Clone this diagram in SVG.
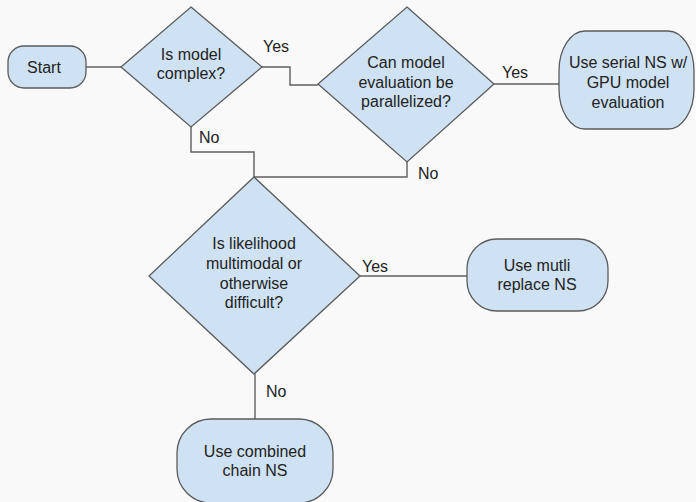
<svg xmlns="http://www.w3.org/2000/svg" width="696" height="502" viewBox="0 0 696 502">
<style>
.n{fill:#cfe2f3;stroke:#5b5b5b;stroke-width:1.3}
.c{fill:none;stroke:#5f5f5f;stroke-width:1.4}
text{font-family:"Liberation Sans",Arial,sans-serif;font-size:16px;fill:#222}
.m{text-anchor:middle}
</style>
<rect width="696" height="502" fill="#f9f9f9"/>
<g id="connectors">
<path class="c" d="M86,67H121"/>
<path class="c" d="M262,67H290V85H318"/>
<path class="c" d="M494,84H559"/>
<path class="c" d="M191,127V152H254V177"/>
<path class="c" d="M407,162V177H254"/>
<path class="c" d="M360,276H467"/>
<path class="c" d="M255,374V419"/>
<text x="263" y="52">Yes</text>
<text x="502" y="78">Yes</text>
<text x="199" y="143">No</text>
<text x="418" y="179">No</text>
<text x="362" y="272">Yes</text>
<text x="266" y="397">No</text>
</g>
<g id="start">
<rect class="n" x="8" y="46" width="78" height="42" rx="16"/>
<text class="m" x="44" y="73">Start</text>
</g>
<g id="complex">
<path class="n" d="M191,7L262,67L191,127L121,67Z"/>
<text class="m" x="191" y="60">Is model</text>
<text class="m" x="191" y="79">complex?</text>
</g>
<g id="parallel">
<path class="n" d="M407,7L494,84L407,162L318,84Z"/>
<text class="m" x="406" y="68">Can model</text>
<text class="m" x="406" y="88">evaluation be</text>
<text class="m" x="406" y="107">parallelized?</text>
</g>
<g id="serial">
<rect class="n" x="559" y="31" width="135" height="98" rx="26" ry="40"/>
<text class="m" x="628" y="68">Use serial NS w/</text>
<text class="m" x="628" y="88">GPU model</text>
<text class="m" x="628" y="108">evaluation</text>
</g>
<g id="multimodal">
<path class="n" d="M254,177L360,276L254,374L149,276Z"/>
<text class="m" x="254" y="249">Is likelihood</text>
<text class="m" x="254" y="269">multimodal or</text>
<text class="m" x="254" y="289">otherwise</text>
<text class="m" x="254" y="308">difficult?</text>
</g>
<g id="multi">
<rect class="n" x="467" y="239" width="141" height="72" rx="30"/>
<text class="m" x="537" y="271">Use mutli</text>
<text class="m" x="537" y="290">replace NS</text>
</g>
<g id="combined">
<rect class="n" x="177" y="419" width="156" height="84" rx="34"/>
<text class="m" x="255" y="457">Use combined</text>
<text class="m" x="255" y="476">chain NS</text>
</g>
</svg>
